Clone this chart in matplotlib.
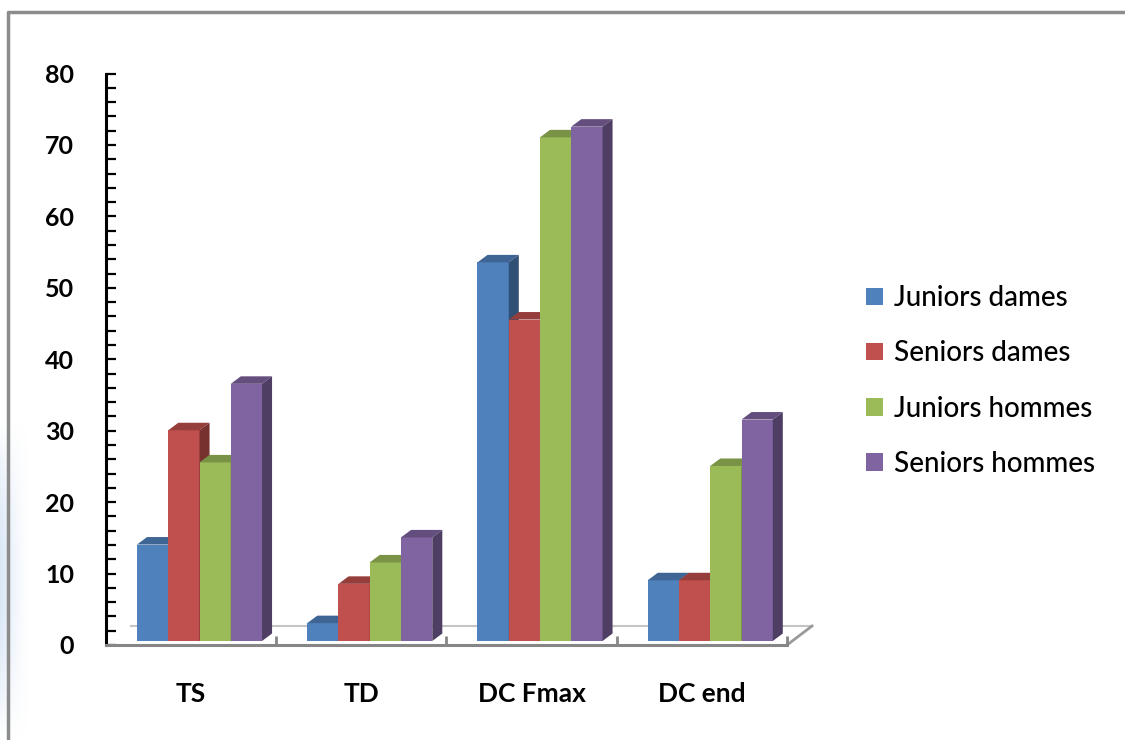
import matplotlib.pyplot as plt
from matplotlib.patches import Polygon, Patch
from matplotlib.colors import to_rgb
import numpy as np

plt.rcParams['font.family'] = ['Lato', 'DejaVu Sans']

categories = ["TS", "TD", "DC Fmax", "DC end"]
series = ["Juniors dames", "Seniors dames", "Juniors hommes", "Seniors hommes"]
juniors_dames = [13.5, 2.5, 53, 8.5]
seniors_dames = [29.5, 8, 45, 8.5]
juniors_hommes = [25, 11, 70.5, 24.5]
seniors_hommes = [36, 14.5, 72, 31]
values = [juniors_dames, seniors_dames, juniors_hommes, seniors_hommes]
colors = ["#4F81BD", "#C0504D", "#9BBB59", "#8064A2"]


def shade(c, f):
    r, g, b = to_rgb(c)
    return (r * f, g * f, b * f)


W, H = 1125, 740
fig = plt.figure(figsize=(W / 100, H / 100), dpi=100)

# faint blue glow along the lower left edge
glow = fig.add_axes([0, 0, 30 / W, 320 / H], zorder=-5)
gx = np.linspace(1, 0, 60)[None, :] ** 1.5
gy = np.sin(np.linspace(0, np.pi, 100))[:, None]
rgba = np.zeros((100, 60, 4))
rgba[..., :3] = to_rgb("#c9dcf2")
rgba[..., 3] = gx * gy * 0.7
glow.imshow(rgba, aspect="auto", extent=(0, 1, 0, 1))
glow.axis("off")

# chart area border (top and left visible)
fig.add_artist(plt.Line2D([8 / W, 8 / W, 1], [0, 1 - 12 / H, 1 - 12 / H],
                          transform=fig.transFigure, color="#8c8c8c", lw=2.5))

ax = fig.add_axes([106 / W, 1 - 645 / H, 681 / W, 571.5 / H])
ax.set_xlim(0, 4)
ax.set_ylim(0, 80)

# 3D geometry in data units
floor_dx, floor_dy = 0.147, 2.66
bar_dx, bar_dy = 0.059, 1.05
bar_base = 0.56
bar_w = 0.1836
group_left = 0.182

# floor outline
ax.plot([floor_dx, 4 + floor_dx], [floor_dy, floor_dy], color="#c4c4c4", lw=1.5, clip_on=False, zorder=1)
ax.plot([4, 4 + floor_dx], [0, floor_dy], color="#9a9a9a", lw=2, clip_on=False, zorder=1)

for i, cat in enumerate(categories):
    for j, (vals, c) in enumerate(zip(values, colors)):
        x = i + group_left + j * bar_w
        h = vals[i]
        y0, y1 = bar_base, bar_base + h
        front = [(x, y0), (x + bar_w, y0), (x + bar_w, y1), (x, y1)]
        top = [(x, y1), (x + bar_w, y1), (x + bar_w + bar_dx, y1 + bar_dy), (x + bar_dx, y1 + bar_dy)]
        side = [(x + bar_w, y0), (x + bar_w + bar_dx, y0 + bar_dy),
                (x + bar_w + bar_dx, y1 + bar_dy), (x + bar_w, y1)]
        ax.add_patch(Polygon(front, closed=True, facecolor=c, edgecolor="none", zorder=2))
        ax.add_patch(Polygon(top, closed=True, facecolor=shade(c, 0.78), edgecolor="none", zorder=2))
        ax.add_patch(Polygon(side, closed=True, facecolor=shade(c, 0.62), edgecolor="none", zorder=2))

for s in ["top", "right"]:
    ax.spines[s].set_visible(False)
ax.spines["left"].set_color("black")
ax.spines["left"].set_linewidth(2.2)
ax.spines["bottom"].set_color("#868686")
ax.spines["bottom"].set_linewidth(2.2)
ax.spines["left"].set_zorder(5)
ax.spines["bottom"].set_zorder(5)

ax.set_yticks(np.arange(0, 81, 10))
ax.set_yticks(np.arange(0, 81, 2), minor=True)
ax.tick_params(axis="y", which="both", direction="in", length=7.5, width=1.6, color="black")
ax.tick_params(axis="y", which="major", pad=23, labelsize=18)
for lab in ax.get_yticklabels():
    lab.set_fontweight("bold")

ax.set_xticks([1, 2, 3, 4])
ax.set_xticklabels([])
ax.tick_params(axis="x", which="major", direction="in", length=6.5, width=2, color="#868686")
ax.set_xticks(np.arange(4) + 0.5, minor=True)
ax.set_xticklabels(categories, minor=True, fontsize=19, fontweight="bold")
ax.tick_params(axis="x", which="minor", length=0, pad=27)

handles = [Patch(facecolor=c, edgecolor="none", label=s) for s, c in zip(series, colors)]
fig.legend(handles=handles, loc="center left", bbox_to_anchor=(841 / W, 1 - 381 / H),
           frameon=False, fontsize=20, handlelength=0.6, handleheight=0.6,
           handletextpad=0.4, labelspacing=1.05, prop={"weight": "medium", "size": 20})

fig.savefig("out.png", dpi=100, facecolor="white")
